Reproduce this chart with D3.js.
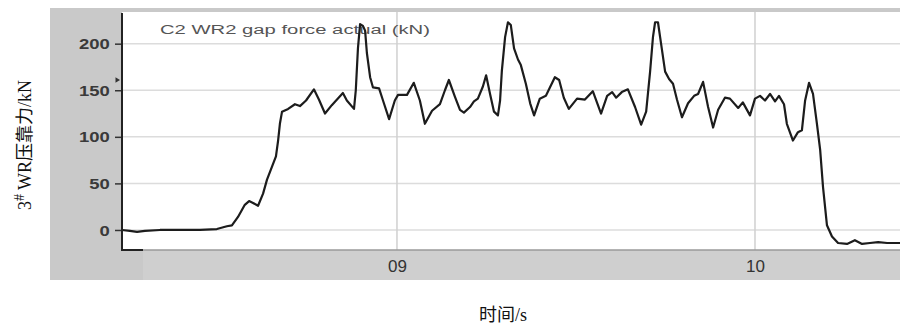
<!DOCTYPE html>
<html>
<head>
<meta charset="utf-8">
<script src="https://cdn.jsdelivr.net/npm/d3@7/dist/d3.min.js"></script>
<style>
  body { margin: 0; background: #fff; }
  svg { display: block; }
  .serif { font-family: "Liberation Serif", "DejaVu Serif", "Noto Sans CJK SC", serif; }
  .sans { font-family: "Liberation Sans", Arial, sans-serif; }
</style>
</head>
<body>
<svg id="chart" width="900" height="324"></svg>
<script>
// Time stamps of the trace (s)
const timeSec = [
  8.232, 8.254, 8.274, 8.296, 8.338, 8.394, 8.450, 8.497, 8.525, 8.539,
  8.556, 8.575, 8.587, 8.598, 8.612, 8.626, 8.637, 8.651, 8.662, 8.668,
  8.673, 8.679, 8.696, 8.715, 8.729, 8.746, 8.768, 8.782, 8.799, 8.818,
  8.849, 8.860, 8.880, 8.885, 8.891, 8.897, 8.905, 8.911, 8.916, 8.925,
  8.933, 8.950, 8.961, 8.978, 8.994, 9.003, 9.028, 9.047, 9.064, 9.078,
  9.098, 9.120, 9.134, 9.145, 9.162, 9.176, 9.187, 9.204, 9.215, 9.226,
  9.240, 9.249, 9.260, 9.271, 9.282, 9.288, 9.293, 9.302, 9.310, 9.318,
  9.327, 9.338, 9.346, 9.360, 9.372, 9.383, 9.399, 9.416, 9.441, 9.453,
  9.466, 9.480, 9.503, 9.525, 9.547, 9.570, 9.587, 9.601, 9.612, 9.628,
  9.645, 9.665, 9.682, 9.696, 9.707, 9.715, 9.721, 9.729, 9.735, 9.749,
  9.760, 9.771, 9.782, 9.796, 9.813, 9.830, 9.841, 9.855, 9.869, 9.883,
  9.897, 9.916, 9.930, 9.953, 9.966, 9.986, 10.000, 10.014, 10.028, 10.042,
  10.056, 10.067, 10.081, 10.089, 10.106, 10.120, 10.131, 10.140, 10.151, 10.162,
  10.173, 10.182, 10.190, 10.201, 10.215, 10.232, 10.257, 10.279, 10.299, 10.321,
  10.344, 10.369, 10.405
];

// WR2 gap force (kN) at each time stamp
const forceKN = [
  0, -1, -2, -1, 0, 0, 0, 1, 4, 5,
  14, 27, 31, 29, 26, 39, 54, 68, 79, 96,
  114, 127, 130, 135, 133, 139, 151, 140, 125, 134,
  147, 139, 130, 150, 195, 221, 219, 214, 190, 164,
  153, 152, 139, 119, 139, 145, 145, 158, 139, 114,
  128, 135, 150, 161, 143, 129, 126, 132, 138, 141,
  154, 166, 146, 127, 123, 139, 171, 207, 223, 220,
  195, 183, 177, 157, 136, 123, 141, 144, 164, 161,
  142, 130, 141, 140, 149, 125, 144, 148, 142, 148,
  151, 132, 113, 127, 170, 207, 223, 223, 207, 170,
  162, 157, 140, 121, 136, 144, 146, 159, 132, 110,
  129, 142, 141, 131, 137, 123, 141, 144, 139, 146,
  138, 144, 135, 114, 96, 105, 107, 139, 158, 146,
  114, 86, 46, 5, -7, -14, -15, -11, -15, -14,
  -13, -14, -14
];

const yTickValues = [0, 50, 100, 150, 200];
const xTickValues = [9, 10];
const xTickLabels = ["09", "10"];
const markerValue = 161;   // set-point marker on the force axis

const chartTitle = "C2 WR2 gap force actual (kN)";
const yTitleMain = "3";
const yTitleSup = "#";
const yTitleRest = " WR压靠力/kN";
const xAxisTitle = "时间/s";

const svg = d3.select("#chart");

// Plot frame
const plot = { left: 122, right: 900, top: 12, bottom: 250 };

const x = d3.scaleLinear().domain([8.232, 10.405]).range([plot.left, plot.right]);
const y = d3.scaleLinear().domain([-21.5, 234]).range([plot.bottom, plot.top]);

// Grey instrument panel behind the plot
svg.append("rect")
  .attr("x", 50).attr("y", 8).attr("width", 850).attr("height", 272)
  .attr("fill", "#c9c9c9");
svg.append("rect")
  .attr("x", 143).attr("y", plot.bottom).attr("width", 757).attr("height", 30)
  .attr("fill", "#cfcfcf");
svg.append("rect")
  .attr("x", plot.left).attr("y", plot.top)
  .attr("width", plot.right - plot.left).attr("height", plot.bottom - plot.top)
  .attr("fill", "#ffffff");

// Gridlines
svg.append("g")
  .selectAll("line")
  .data(yTickValues)
  .join("line")
  .attr("x1", plot.left).attr("x2", plot.right)
  .attr("y1", d => y(d)).attr("y2", d => y(d))
  .attr("stroke", "#dcdcdc").attr("stroke-width", 1.5);

svg.append("g")
  .selectAll("line")
  .data(xTickValues)
  .join("line")
  .attr("x1", d => x(d)).attr("x2", d => x(d))
  .attr("y1", plot.top).attr("y2", plot.bottom)
  .attr("stroke", "#d0d0d0").attr("stroke-width", 1.5);

// Bottom edge of the plot
svg.append("line")
  .attr("x1", plot.left).attr("x2", plot.right)
  .attr("y1", plot.bottom).attr("y2", plot.bottom)
  .attr("stroke", "#9a9a9a").attr("stroke-width", 1.5);

// Title inside the plot
svg.append("text")
  .attr("class", "sans")
  .attr("x", 160).attr("y", 34)
  .attr("textLength", 270).attr("lengthAdjust", "spacingAndGlyphs")
  .attr("font-size", 12.5)
  .attr("fill", "#555")
  .text(chartTitle);

// Force trace
const points = timeSec.map((t, i) => [t, forceKN[i]]);
svg.append("path")
  .datum(points)
  .attr("fill", "none")
  .attr("stroke", "#1c1c1c")
  .attr("stroke-width", 2.2)
  .attr("stroke-linejoin", "round")
  .attr("d", d3.line().x(d => x(d[0])).y(d => y(d[1])));

// Y axis
const yAxis = svg.append("g")
  .attr("transform", `translate(${plot.left},0)`)
  .call(d3.axisLeft(y).tickValues(yTickValues).tickSize(7).tickSizeOuter(0));
yAxis.select(".domain").remove();
yAxis.selectAll(".tick line").attr("stroke", "#333").attr("stroke-width", 1.5);
yAxis.selectAll(".tick text")
  .attr("class", "sans")
  .attr("x", -9.2)
  .attr("dy", "0.36em")
  .attr("transform", "scale(1.32,1)")
  .attr("font-weight", "bold")
  .attr("font-size", 14)
  .attr("fill", "#3a3a3a");

// Axis spine and its short foot
svg.append("path")
  .attr("d", `M${plot.left},${plot.top + 1}V${plot.bottom}H143`)
  .attr("fill", "none")
  .attr("stroke", "#222")
  .attr("stroke-width", 2);

// Set-point marker
svg.append("path")
  .attr("d", d3.symbol().type(d3.symbolTriangle).size(12)())
  .attr("transform", `translate(117,${y(markerValue)}) rotate(90)`)
  .attr("fill", "#333");

// X axis
const xAxis = svg.append("g")
  .attr("transform", `translate(0,${plot.bottom})`)
  .call(d3.axisBottom(x).tickValues(xTickValues)
    .tickFormat((d, i) => xTickLabels[i]).tickSize(0));
xAxis.select(".domain").remove();
xAxis.selectAll(".tick text")
  .attr("class", "sans")
  .attr("y", 22).attr("dy", 0)
  .attr("font-size", 17)
  .attr("fill", "#333");

// Axis titles
const yTitle = svg.append("text")
  .attr("class", "serif")
  .attr("transform", "translate(31,145) rotate(-90)")
  .attr("text-anchor", "middle")
  .attr("font-size", 18)
  .attr("fill", "#111");
yTitle.append("tspan").text(yTitleMain);
yTitle.append("tspan").attr("dy", -7).attr("font-size", 14).text(yTitleSup);
yTitle.append("tspan").attr("dy", 7).text(yTitleRest);

svg.append("text")
  .attr("class", "serif")
  .attr("x", 503).attr("y", 321)
  .attr("text-anchor", "middle")
  .attr("font-size", 18)
  .attr("fill", "#111")
  .text(xAxisTitle);
</script>
</body>
</html>
